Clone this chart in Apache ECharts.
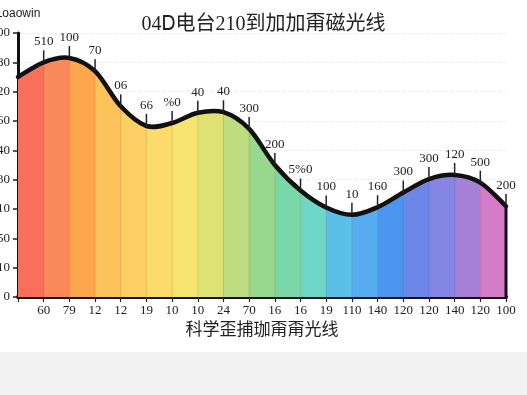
<!DOCTYPE html>
<html>
<head>
<meta charset="utf-8">
<script src="https://cdn.jsdelivr.net/npm/echarts@6/dist/echarts.min.js"></script>
<style>html,body{margin:0;padding:0;background:#fff;}#c{width:527px;height:395px;}</style>
</head>
<body>
<div id="c"></div>
<script>
var categories = ['', '60', '79', '12', '12', '19', '10', '10', '24', '70', '16', '16', '19', '110', '140', '120', '120', '140', '120', '100'];
var values = [75.0, 80.0, 81.5, 77.0, 65.0, 58.3, 59.3, 62.8, 63.0, 57.3, 45.0, 36.3, 30.5, 28.0, 30.6, 35.6, 40.2, 41.6, 39.0, 31.0];
var topLabels = ['', '510', '100', '70', '06', '66', '%0', '40', '40', '300', '200', '5%0', '100', '10', '160', '300', '300', '120', '500', '200'];
var yTickLabels = ['0', '10', '50', '10', '30', '40', '60', '20', '80', '100'];
var bandColors = ['#f96f5b', '#fa8a5c', '#fba54c', '#fbc35a', '#fcd062', '#fcdb6a', '#f7e470', '#dde273', '#bedd80', '#97d88e', '#7ad8a8', '#6dd6c6', '#5bc0e6', '#55acee', '#4b95ee', '#6b88e8', '#8585e3', '#a67fd6', '#d57cc8'];

var stops = [];
bandColors.forEach(function (c, i) {
  stops.push({ offset: i / bandColors.length, color: c });
  stops.push({ offset: (i + 1) / bandColors.length, color: c });
});

function curvePath(pts) {
  var n = pts.length;
  var d = 'M' + pts[0][0] + ' ' + pts[0][1];
  for (var i = 0; i < n - 1; i++) {
    var p0 = pts[Math.max(i - 1, 0)], p1 = pts[i], p2 = pts[i + 1], p3 = pts[Math.min(i + 2, n - 1)];
    var c1x = p1[0] + (p2[0] - p0[0]) / 6, c1y = p1[1] + (p2[1] - p0[1]) / 6;
    var c2x = p2[0] - (p3[0] - p1[0]) / 6, c2y = p2[1] - (p3[1] - p1[1]) / 6;
    d += ' C' + c1x + ' ' + c1y + ' ' + c2x + ' ' + c2y + ' ' + p2[0] + ' ' + p2[1];
  }
  return d;
}

var serif = '"Liberation Serif", "DejaVu Serif", "Noto Sans CJK SC", serif';
var chart = echarts.init(document.getElementById('c'), null, { renderer: 'canvas' });
chart.setOption({
  backgroundColor: '#ffffff',
  animation: false,
  graphic: [{
    type: 'rect', left: 0, top: 352, z: -10,
    shape: { width: 527, height: 43 },
    style: { fill: '#f2f2f2' }
  }],
  title: {
    text: '04Ꭰ电台210到加加甭磁光线',
    left: 'center', top: 10,
    textStyle: { fontFamily: serif, fontSize: 20, fontWeight: 'normal', color: '#222' }
  },
  grid: { left: 18, right: 21, top: 33, bottom: 98, containLabel: false, outerBoundsMode: 'none' },
  xAxis: {
    type: 'category',
    data: categories,
    boundaryGap: false,
    name: '科学歪捕珈甭甭光线',
    nameLocation: 'middle',
    nameGap: 25,
    nameTextStyle: { fontFamily: serif, fontSize: 17, color: '#222' },
    axisLine: { lineStyle: { color: '#111', width: 4 } },
    axisTick: { show: true, length: 5, lineStyle: { color: '#222', width: 1.2 } },
    axisLabel: { fontFamily: serif, fontSize: 13, color: '#222', margin: 7, interval: 0 },
    splitLine: { show: false }
  },
  yAxis: {
    type: 'value',
    min: 0, max: 90, interval: 10,
    name: 'Loaowin',
    nameLocation: 'end',
    nameGap: 13,
    nameTextStyle: { fontFamily: '"Liberation Sans", sans-serif', fontSize: 12, color: '#222' },
    axisLine: { show: true, lineStyle: { color: '#111', width: 3 } },
    axisTick: { show: true, length: 5, lineStyle: { color: '#222', width: 1.5 } },
    axisLabel: {
      fontFamily: serif, fontSize: 13, color: '#222', margin: 8,
      formatter: function (v) { return yTickLabels[Math.round(v / 10)]; }
    },
    splitLine: { show: true, lineStyle: { color: '#efefef', width: 1, type: 'dashed' } }
  },
  series: [{
    type: 'custom',
    z: 3,
    clip: false,
    data: values.map(function (v, i) { return [i, v]; }),
    renderItem: function (params, api) {
      var i = api.value(0);
      var top = api.coord([i, api.value(1)]);
      var base = api.coord([i, 0]);
      var last = i === values.length - 1;
      var children = [];
      if (i === 0) {
        var pts = values.map(function (v, k) { return api.coord([k, v]); });
        var b0 = api.coord([0, 0]), b1 = api.coord([values.length - 1, 0]);
        var line = curvePath(pts);
        children.push({
          type: 'path',
          shape: { pathData: line + ' L' + b1[0] + ' ' + b1[1] + ' L' + b0[0] + ' ' + b0[1] + ' Z' },
          style: { fill: new echarts.graphic.LinearGradient(0, 0, 1, 0, stops), stroke: null }
        });
        for (var k = 1; k < values.length - 1; k++) {
          var bk = api.coord([k, 0]);
          children.push({
            type: 'line',
            shape: { x1: bk[0], y1: bk[1], x2: pts[k][0], y2: pts[k][1] },
            style: { stroke: 'rgba(110,70,40,0.16)', lineWidth: 1 }
          });
        }
        children.push({
          type: 'path',
          shape: { pathData: line },
          style: { fill: null, stroke: '#111', lineWidth: 4.5, lineCap: 'round', lineJoin: 'round' }
        });
        return { type: 'group', children: children };
      }
      if (last) {
        children.push({
          type: 'line',
          shape: { x1: base[0], y1: base[1], x2: top[0], y2: top[1] },
          style: { stroke: '#111', lineWidth: 3 }
        });
      }
      children.push({
        type: 'line',
        shape: { x1: top[0], y1: top[1], x2: top[0], y2: top[1] - 12 },
        style: { stroke: '#222', lineWidth: 1.5 }
      });
      children.push({
        type: 'text',
        style: {
          x: top[0], y: top[1] - 14,
          text: topLabels[i],
          fill: '#222',
          font: '13px ' + serif,
          align: 'center', verticalAlign: 'bottom'
        }
      });
      return { type: 'group', children: children };
    }
  }]
});
</script>
</body>
</html>
